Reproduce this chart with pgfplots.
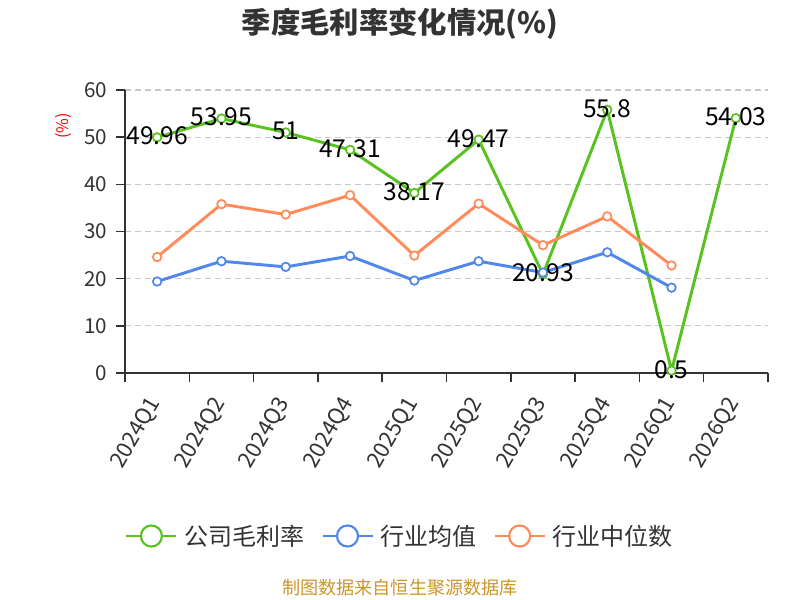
\documentclass[border=0pt]{standalone}
\usepackage{pgfplots}
\pgfplotsset{compat=1.18}
\usepackage{pgfplotstable}
\usepackage{fontspec}
\setmainfont{Noto Sans CJK SC}
\definecolor{cgreen}{RGB}{88,194,30}
\definecolor{cblue}{RGB}{80,135,236}
\definecolor{corange}{RGB}{255,138,90}
\definecolor{ctext}{RGB}{51,51,51}
\definecolor{cgrid}{RGB}{200,200,200}
\definecolor{csrc}{RGB}{204,150,40}

\pgfplotstableread{
x y lab
0 49.96 49.96
1 53.95 53.95
2 51 51
3 47.31 47.31
4 38.17 38.17
5 49.47 49.47
6 20.93 20.93
7 55.8 55.8
8 0.5 0.5
9 54.03 54.03
}\company
\pgfplotstableread{
x y
0 19.4
1 23.7
2 22.5
3 24.8
4 19.6
5 23.7
6 21.3
7 25.6
8 18.1
}\avg
\pgfplotstableread{
x y
0 24.6
1 35.8
2 33.6
3 37.7
4 24.9
5 35.9
6 27.1
7 33.2
8 22.8
}\median

\begin{document}
\begin{tikzpicture}
\path[use as bounding box] (0,0) rectangle (600pt,450pt);
\node[font=\fontsize{22}{26}\selectfont\bfseries, text=ctext] at (300pt,432.4pt) {季度毛利率变化情况(\%)};
\node[font=\fontsize{13.6}{16}\selectfont, text=csrc] at (300pt,9pt) {制图数据来自恒生聚源数据库};
\node[rotate=90, text=red, font=\fontsize{12}{14}\selectfont] at (47.6pt,355.7pt) {(\%)};
\begin{axis}[
  at={(93.75pt,170.25pt)}, anchor=south west,
  scale only axis, width=482.25pt, height=212.25pt,
  xmin=-0.5, xmax=9.5, ymin=0, ymax=60,
  axis x line=bottom, axis y line=left,
  axis line style={-, draw=ctext, line width=1.1pt},
  xtick={-0.5,0.5,...,9.5},
  x tick label as interval,
  xticklabels={2024Q1,2024Q2,2024Q3,2024Q4,2025Q1,2025Q2,2025Q3,2025Q4,2026Q1,2026Q2},
  tick style={draw=ctext, line width=1.1pt},
  tick align=outside,
  major tick length=7pt,
  ytick={0,10,...,60},
  ymajorgrids, grid style={cgrid, dashed, dash pattern=on 4.5pt off 3pt, line width=0.8pt},
  tick label style={font=\fontsize{15.5}{18}\selectfont, text=ctext},
  xticklabel shift=11pt,
  xticklabel style={font=\fontsize{16.5}{20}\selectfont, rotate=60, anchor=east, inner sep=2pt},
  yticklabel style={xshift=-3pt},
  /pgf/number format/assume math mode=true,
  every axis plot/.append style={line width=2.2pt, mark=*, mark size=3.2pt, mark options={fill=white, line width=1.3pt}},
  legend style={at={(0.428,-0.576)}, anchor=center, draw=none, fill=none,
    legend columns=3, font=\fontsize{18}{21}\selectfont, text=ctext,
    /tikz/every odd column/.append style={column sep=3pt},
    /tikz/every even column/.append style={column sep=11pt}},
  legend cell align=left,
  legend image code/.code={
    \draw[line width=1.6pt] (0pt,0pt) -- (37.5pt,0pt);
    \draw[line width=1.6pt, fill=white] (18.75pt,0pt) circle (7.9pt);
  },
]
\addplot[cgreen] table[x=x,y=y] {\company};
\addlegendentry{公司毛利率}
\addplot[cblue] table[x=x,y=y] {\avg};
\addlegendentry{行业均值}
\addplot[corange] table[x=x,y=y] {\median};
\addlegendentry{行业中位数}
\addplot[draw=none, mark=none, forget plot,
  point meta=explicit symbolic,
  nodes near coords, nodes near coords align={center},
  every node near coord/.append style={font=\fontsize{18.5}{21}\selectfont, text=black, yshift=1pt}]
  table[x=x,y=y,meta=lab] {\company};
\end{axis}
\end{tikzpicture}
\end{document}
